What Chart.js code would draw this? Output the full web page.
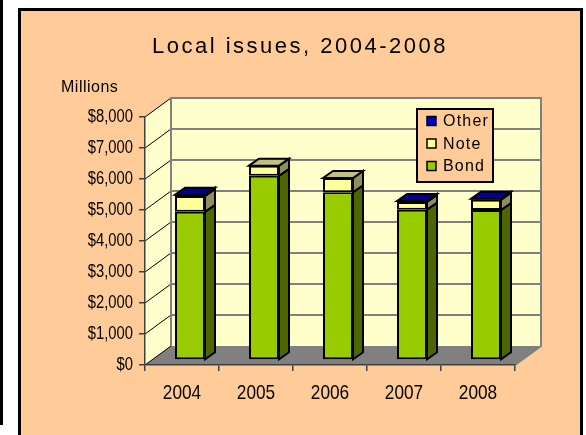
<!DOCTYPE html>
<html>
<head>
<meta charset="utf-8">
<script src="https://cdn.jsdelivr.net/npm/chart.js@4.4.1/dist/chart.umd.min.js"></script>
<style>
  html, body { margin: 0; padding: 0; background: #ffffff; overflow: hidden; }
  #wrap { width: 586px; height: 435px; }
</style>
</head>
<body>
<div id="wrap"><canvas id="chart" width="586" height="435"></canvas></div>
<script>
// Local government issues by type, $ millions
const years = ['2004', '2005', '2006', '2007', '2008'];
const bond  = [4780, 5940, 5410, 4850, 4840];
const note  = [510, 330, 460, 250, 330];
const other = [40, 0, 0, 30, 30];
const yTickValues = [0, 1000, 2000, 3000, 4000, 5000, 6000, 7000, 8000];

const SANS = "'Liberation Sans', Arial, sans-serif";
const NARROW_SCALE = 0.82;   // horizontal squeeze for the condensed axis lettering

// Depth of the box (back wall offset) and of each bar
const DEPTH = { dx: 26, dy: -19 };
const BAR_SHIFT = { dx: 8, dy: -5 };
const BAR_DEPTH = { dx: 10, dy: -7 };

const faceColors = [
  { front: '#99cc00', side: '#4d6600', top: '#739900' },
  { front: '#ffff99', side: '#8f8f5e', top: '#c0c080' },
  { front: '#0000cc', side: '#000066', top: '#000099' }
];

const money = v => '$' + Number(v).toLocaleString('en-US');

function poly(ctx, pts, fill, stroke, lw) {
  ctx.beginPath();
  ctx.moveTo(pts[0][0], pts[0][1]);
  for (let i = 1; i < pts.length; i++) ctx.lineTo(pts[i][0], pts[i][1]);
  ctx.closePath();
  if (fill) { ctx.fillStyle = fill; ctx.fill(); }
  if (stroke) { ctx.strokeStyle = stroke; ctx.lineWidth = lw || 1; ctx.stroke(); }
}

function narrowText(ctx, text, x, y, size, align) {
  ctx.save();
  ctx.translate(x, y);
  ctx.scale(NARROW_SCALE, 1);
  ctx.font = size + 'px ' + SANS;
  ctx.textAlign = align;
  ctx.textBaseline = 'middle';
  ctx.fillStyle = '#000000';
  ctx.fillText(text, 0, 0);
  ctx.restore();
}

const scene3d = {
  id: 'scene3d',
  beforeDraw(chart) {
    const ctx = chart.ctx;
    const { left, right, top, bottom } = chart.chartArea;
    const yScale = chart.scales.y;
    ctx.save();
    // page and panel
    ctx.fillStyle = '#ffffff';
    ctx.fillRect(0, 0, chart.width, chart.height);
    ctx.fillStyle = '#000000';
    ctx.fillRect(0, 0, 3, 425);
    ctx.fillStyle = '#ffcc99';
    ctx.fillRect(19, 9, 563, 430);
    ctx.strokeStyle = '#000000';
    ctx.lineWidth = 3;
    ctx.beginPath();
    ctx.moveTo(19.5, 440); ctx.lineTo(19.5, 9.5); ctx.lineTo(581.5, 9.5); ctx.lineTo(581.5, 440);
    ctx.stroke();

    // title and unit label
    ctx.fillStyle = '#000000';
    ctx.textAlign = 'center';
    ctx.textBaseline = 'middle';
    ctx.font = '22px ' + SANS;
    ctx.letterSpacing = '2.5px';
    ctx.fillText('Local issues, 2004-2008', 300, 47);
    ctx.textAlign = 'left';
    ctx.font = '16px ' + SANS;
    ctx.letterSpacing = '0.5px';
    ctx.fillText('Millions', 61, 88);
    ctx.letterSpacing = '0px';

    const dx = DEPTH.dx, dy = DEPTH.dy;
    // side wall
    poly(ctx, [[left, top], [left + dx, top + dy], [left + dx, bottom + dy], [left, bottom]], '#ffffcc');
    // back wall
    poly(ctx, [[left + dx, top + dy], [right + dx, top + dy], [right + dx, bottom + dy], [left + dx, bottom + dy]], '#ffffcc');
    // floor
    poly(ctx, [[left, bottom], [right, bottom], [right + dx, bottom + dy], [left + dx, bottom + dy]], '#808080');

    // grid lines on the walls
    yTickValues.forEach(v => {
      const y = yScale.getPixelForValue(v);
      if (v > 0) {
        ctx.strokeStyle = '#808080';
        ctx.lineWidth = 2;
        ctx.beginPath();
        ctx.moveTo(left + dx, y + dy);
        ctx.lineTo(right + dx, y + dy);
        ctx.stroke();
      }
      ctx.strokeStyle = '#000000';
      ctx.lineWidth = 1;
      ctx.beginPath();
      ctx.moveTo(left, y);
      ctx.lineTo(left + dx, y + dy);
      ctx.stroke();
    });
    // wall edges
    ctx.strokeStyle = '#808080';
    ctx.lineWidth = 2;
    ctx.beginPath();
    ctx.moveTo(left + dx, bottom + dy);
    ctx.lineTo(left + dx, top + dy);
    ctx.lineTo(right + dx, top + dy);
    ctx.lineTo(right + dx, bottom + dy);
    ctx.lineTo(right, bottom);
    ctx.stroke();

    // legend (top series first)
    const lx = 417, ly = 109, lw = 76, lh = 73;
    ctx.fillStyle = '#ffcc99';
    ctx.fillRect(lx, ly, lw, lh);
    ctx.strokeStyle = '#000000';
    ctx.lineWidth = 2;
    ctx.strokeRect(lx, ly, lw, lh);
    const items = chart.data.datasets.map(d => ({ label: d.label, color: d.backgroundColor })).reverse();
    ctx.font = '16px ' + SANS;
    ctx.textAlign = 'left';
    ctx.textBaseline = 'middle';
    items.forEach((it, k) => {
      const cy = 121 + k * 22.5;
      ctx.fillStyle = it.color;
      ctx.fillRect(427, cy - 4.5, 9, 9);
      ctx.strokeStyle = '#000000';
      ctx.lineWidth = 1.5;
      ctx.strokeRect(427, cy - 4.5, 9, 9);
      ctx.fillStyle = '#000000';
      ctx.letterSpacing = '1.2px';
      ctx.fillText(it.label, 443, cy + 1);
      ctx.letterSpacing = '0px';
    });
    ctx.restore();
  },
  afterDraw(chart) {
    // condensed axis labels placed from the scales
    const ctx = chart.ctx;
    const xs = chart.scales.x, ys = chart.scales.y;
    ys.ticks.forEach(t => {
      narrowText(ctx, money(t.value), ys.right - 12, ys.getPixelForValue(t.value), 18, 'right');
    });
    chart.data.labels.forEach((lab, i) => {
      narrowText(ctx, lab, xs.getPixelForTick(i), xs.top + 28, 21, 'center');
    });
  },
  beforeDatasetsDraw(chart) {
    chart.ctx.save();
    chart.ctx.translate(BAR_SHIFT.dx, BAR_SHIFT.dy);
  },
  afterDatasetsDraw(chart) {
    const ctx = chart.ctx;
    const n = chart.data.labels.length;
    const bx = BAR_DEPTH.dx, by = BAR_DEPTH.dy;
    for (let j = 0; j < n; j++) {
      let topEl = null, topIdx = -1;
      chart.data.datasets.forEach((ds, i) => {
        const el = chart.getDatasetMeta(i).data[j];
        if (!ds.data[j]) return;
        const r = el.x + el.width / 2;
        const t = Math.min(el.y, el.base), b = Math.max(el.y, el.base);
        poly(ctx, [[r, t], [r + bx, t + by], [r + bx, b + by], [r, b]], faceColors[i].side, '#000000', 2);
        topEl = el; topIdx = i;
      });
      if (topEl) {
        const l = topEl.x - topEl.width / 2, r = topEl.x + topEl.width / 2;
        const t = Math.min(topEl.y, topEl.base);
        poly(ctx, [[l, t], [l + bx, t + by], [r + bx, t + by], [r, t]], faceColors[topIdx].top, '#000000', 2);
      }
    }
    ctx.restore();
  }
};

new Chart(document.getElementById('chart'), {
  type: 'bar',
  data: {
    labels: years,
    datasets: [
      { label: 'Bond',  data: bond,  backgroundColor: faceColors[0].front },
      { label: 'Note',  data: note,  backgroundColor: faceColors[1].front },
      { label: 'Other', data: other, backgroundColor: faceColors[2].front }
    ]
  },
  options: {
    responsive: false,
    devicePixelRatio: 1,
    animation: false,
    layout: { padding: { left: 45, right: 71, top: 117, bottom: 30 } },
    datasets: {
      bar: {
        categoryPercentage: 1,
        barPercentage: 30 / 74,
        borderColor: '#000000',
        borderWidth: 2,
        borderSkipped: false,
        clip: false
      }
    },
    scales: {
      x: {
        stacked: true,
        grid: { offset: true, drawOnChartArea: false, drawTicks: true, tickLength: 6, color: '#404040', lineWidth: 1.5 },
        border: { display: true, color: '#404040', width: 1.5 },
        ticks: { display: false },
        afterFit(s) { s.height = 40; }
      },
      y: {
        stacked: true,
        min: 0,
        max: 8000,
        grid: { drawOnChartArea: false, drawTicks: true, tickLength: 6, color: '#404040', lineWidth: 1.5 },
        border: { display: true, color: '#404040', width: 1.5 },
        ticks: { display: false, stepSize: 1000, callback: money },
        afterFit(s) { s.width = 100; }
      }
    },
    plugins: {
      legend: { display: false },
      title: { display: false },
      tooltip: { enabled: false }
    }
  },
  plugins: [scene3d]
});
</script>
</body>
</html>
